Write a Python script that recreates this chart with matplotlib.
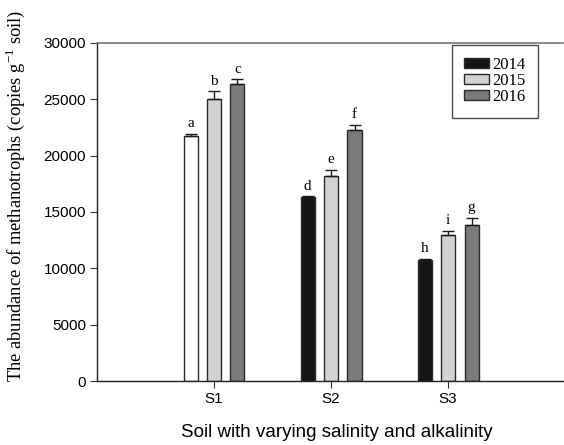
import matplotlib
matplotlib.use('Agg')
import matplotlib.pyplot as plt
from matplotlib.patches import Patch
import numpy as np

# data
sites = ['S1', 'S2', 'S3']
years = ['2014', '2015', '2016']
abund_2014 = [21750, 16300, 10700]
abund_2015 = [25000, 18200, 12950]
abund_2016 = [26400, 22300, 13850]
err_2014 = [200, 80, 150]
err_2015 = [700, 550, 380]
err_2016 = [400, 450, 650]
letters_2014 = ['a', 'd', 'h']
letters_2015 = ['b', 'e', 'i']
letters_2016 = ['c', 'f', 'g']

colors = ['#151515', '#d2d2d2', '#7a7a7a']

fig = plt.figure(figsize=(5.64, 4.45), dpi=100)
ax = fig.add_axes([0.172, 0.1438, 0.826, 0.7596])

x = np.arange(1, len(sites) + 1)
width = 0.12
offset = 0.2

series = [abund_2014, abund_2015, abund_2016]
errs = [err_2014, err_2015, err_2016]
letters = [letters_2014, letters_2015, letters_2016]

for i in range(3):
    xpos = x + (i - 1) * offset
    fc = list([colors[i]] * len(sites))
    if i == 0:
        fc[0] = 'white'   # S1 2014 bar drawn unfilled in the original
    ax.bar(xpos, series[i], width, color=fc, edgecolor='#2a2a2a', linewidth=1.0, zorder=2)
    ax.errorbar(xpos, series[i], yerr=[np.zeros(len(sites)), errs[i]], fmt='none',
                ecolor='#1a1a1a', elinewidth=1.0, capsize=4.3, capthick=1.0, zorder=3)
    for j in range(len(sites)):
        ax.text(xpos[j], series[i][j] + errs[i][j] + 300, letters[i][j],
                ha='center', va='bottom', fontsize=11, family='Liberation Serif')

ax.set_xlim(0, 3.98)
ax.set_ylim(0, 30000)
ax.set_yticks(np.arange(0, 30001, 5000))
ax.set_xticks(x)
ax.set_xticklabels(sites)

for lab in ax.get_xticklabels() + ax.get_yticklabels():
    lab.set_family('Liberation Sans')
    lab.set_fontsize(11)
ax.tick_params(direction='out', length=5, width=0.8, color='#333333', pad=3)

ax.spines['right'].set_visible(False)
ax.spines['top'].set_color('#777777')
ax.spines['top'].set_linewidth(1.2)
for s in ['left', 'bottom']:
    ax.spines[s].set_color('#222222')
    ax.spines[s].set_linewidth(1.0)

handles = [Patch(facecolor=colors[i], edgecolor='#2a2a2a', linewidth=1.0, label=years[i])
           for i in range(3)]
leg = ax.legend(handles=handles, loc='upper right', bbox_to_anchor=(0.946, 0.995),
                frameon=True, fancybox=False,
                prop={'family': 'Liberation Serif', 'size': 12}, handlelength=1.5,
                handleheight=0.55, labelspacing=0.0, borderpad=0.75, handletextpad=0.15,
                borderaxespad=0.0)
leg.get_frame().set_edgecolor('#222222')
leg.get_frame().set_linewidth(1.0)

fig.text(0.598, 0.029, 'Soil with varying salinity and alkalinity', ha='center', va='center',
         fontsize=13.5, family='Liberation Sans')
fig.text(0.027, 0.56, r'The abundance of methanotrophs (copies g$^{\mathregular{-1}}$ soil)',
         rotation=90, ha='center', va='center', fontsize=13.3, family='Liberation Serif')

plt.savefig('out.png', dpi=100)
